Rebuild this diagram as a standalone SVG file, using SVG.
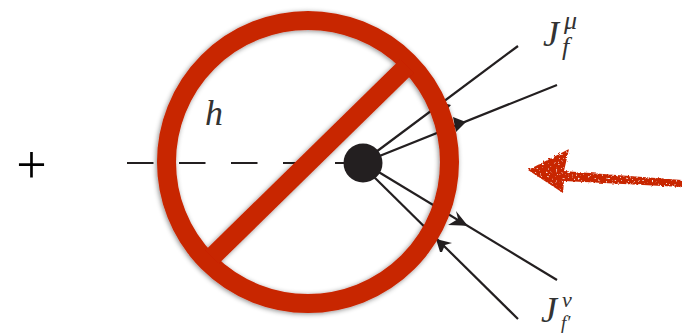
<svg xmlns="http://www.w3.org/2000/svg" width="682" height="333" viewBox="0 0 682 333">
<style>
.l{stroke:#231f20;stroke-width:2.2;fill:none}
.h{fill:#231f20}
.m{font-family:"Liberation Serif",serif;font-style:italic;fill:#333}
.r{fill:none;stroke:#c82506;stroke-width:19}
</style>
<defs>
<filter id="s" x="-10%" y="-10%" width="120%" height="120%"><feDropShadow dx="-1" dy="1" stdDeviation="2.5" flood-color="#000" flood-opacity=".45"/></filter>
<filter id="rough" x="-5%" y="-10%" width="110%" height="120%">
<feTurbulence type="fractalNoise" baseFrequency=".35" numOctaves="2" seed="4" result="n"/>
<feDisplacementMap in="SourceGraphic" in2="n" scale="3" result="d"/>
<feTurbulence type="fractalNoise" baseFrequency=".5" numOctaves="1" seed="9"/>
<feColorMatrix type="matrix" values="0 0 0 0 0 0 0 0 0 0 0 0 0 0 0 0 -7 0 0 5.4"/>
<feComposite in="d" operator="in"/>
</filter>
</defs>
<rect width="682" height="333" fill="#fff"/>
<g id="plus"><text x="31.5" y="183" font-family="Liberation Serif, serif" font-size="54" text-anchor="middle" fill="#000">+</text></g>
<g id="connectors">
<path class="l" stroke-dasharray="26.5 25.5" d="M127 163H346"/>
<path class="l" d="M372 155L518 46"/>
<path class="l" d="M372 159L557 85"/>
<path class="l" d="M372 168L557 280"/>
<path class="l" d="M372 175L518 319"/>
<path class="h" d="M466 122L453 117L456 132Z"/>
<path class="h" d="M451 105L436 101L442 115Z"/>
<path class="h" d="M468 226L456 211L458 219L448 225L461 225.5Z"/>
<path class="h" d="M436 239L452 243L445 245L442 252L440 252Z"/>
</g>
<g id="dot"><circle cx="363" cy="163" r="19.5" fill="#231f20"/></g>
<g id="prohibition">
<g filter="url(#s)"><circle class="r" cx="308" cy="162" r="141.5"/>
<path class="r" d="M212 257L407 66"/></g>
</g>
<g id="label-h"><text class="m" x="205" y="125" font-size="36">h</text></g>
<g id="label-jf">
<text class="m" x="543" y="46" font-size="36">J</text>
<text class="m" x="564" y="29" font-size="26">μ</text>
<text class="m" x="562" y="55" font-size="26">f</text>
</g>
<g id="label-jfp">
<text class="m" x="541" y="322" font-size="36">J</text>
<text class="m" x="562" y="307" font-size="22">ν</text>
<text class="m" x="561" y="329" font-size="19">f′</text>
</g>
<g id="red-arrow" filter="url(#rough)"><path fill="#c82506" d="M528 170L569 149L564 171L682 180V187L564 181L563 193Z"/></g>
</svg>
